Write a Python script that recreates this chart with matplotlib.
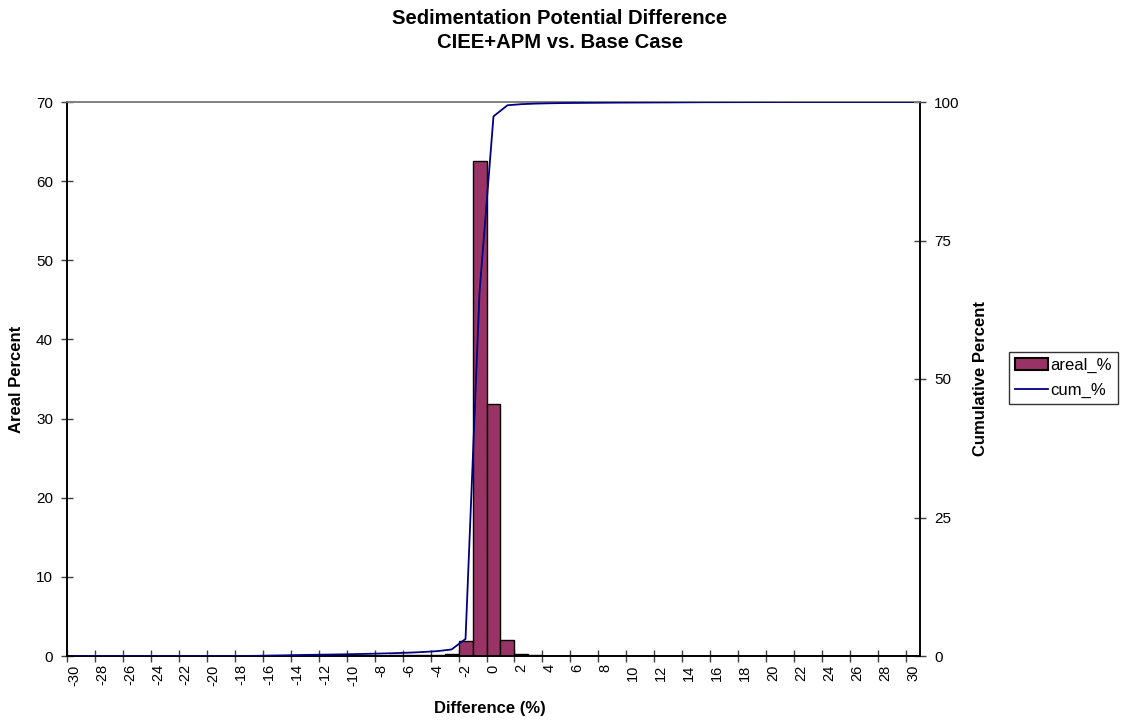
import numpy as np
import matplotlib
matplotlib.use("Agg")
import matplotlib.pyplot as plt
from matplotlib.patches import Patch
from matplotlib.lines import Line2D

plt.rcParams['font.family'] = ['Liberation Sans', 'DejaVu Sans']

# Difference classes (%) and areal percent per class
difference = list(range(-30, 31))
areal_pct = [
    0, 0, 0, 0, 0, 0, 0, 0, 0, 0, 0, 0, 0,          # -30 .. -18
    0.03, 0.05, 0.04, 0.05, 0.04, 0.04, 0.04,       # -17 .. -11
    0.05, 0.05, 0.06, 0.07, 0.09, 0.12, 0.15,       # -10 .. -4
    0.30, 1.90, 62.6, 31.8, 2.00,                   # -3 .. 1
    0.20, 0.10, 0.06, 0.04, 0.02, 0.02, 0.02,       # 2 .. 8
    0.02, 0.01, 0.01, 0.01, 0.01, 0.015, 0.015,     # 9 .. 15
    0.005, 0.005, 0.005, 0.005, 0.005, 0.005, 0.01, # 16 .. 22
    0, 0, 0, 0, 0, 0, 0, 0,                         # 23 .. 30
]
cum_pct = np.cumsum(areal_pct)
cum_pct = cum_pct / cum_pct[-1] * 100.0

tick_labels = [str(v) for v in difference[::2]]

BAR_COLOR = '#993366'
LINE_COLOR = '#000080'

W, H = 1127, 722
L, R, T, B = 67, 920, 102, 656

fig = plt.figure(figsize=(W / 100, H / 100), dpi=100)
ax = fig.add_axes([L / W, 1 - B / H, (R - L) / W, (B - T) / H])
ax2 = ax.twinx()

x = np.array(difference, dtype=float)
ax.bar(x, areal_pct, width=1.0, color=BAR_COLOR, edgecolor='black',
       linewidth=1.0, zorder=2)
ax2.plot(x, cum_pct, color=LINE_COLOR, linewidth=1.3, zorder=3)

ax.set_xlim(-30.5, 30.5)
ax.set_ylim(0, 70)
ax2.set_ylim(0, 100)

# tick marks on category boundaries, labels on category centres
ax.set_xticks(np.arange(-30.5, 30, 2))
ax.set_xticklabels([])
ax.tick_params(axis='x', which='major', direction='inout', length=8,
               width=1, color='#404040')
ax.set_xticks(x[::2], minor=True)
ax.set_xticklabels(tick_labels, minor=True, rotation=90, fontsize=10.5)
ax.tick_params(axis='x', which='minor', length=0, pad=6)

ax.set_yticks(np.arange(0, 71, 10))
ax.tick_params(axis='y', direction='inout', length=8, width=1,
               color='#404040', labelsize=11, pad=6)
ax2.set_yticks([0, 25, 50, 75, 100])
ax2.tick_params(axis='y', direction='inout', length=8, width=1,
                color='#404040', labelsize=11, pad=6)

for a in (ax, ax2):
    a.spines['left'].set_color('black')
    a.spines['right'].set_color('black')
    a.spines['bottom'].set_color('black')
    a.spines['top'].set_color('#808080')
    for s in a.spines.values():
        s.set_linewidth(1.2)
ax.set_zorder(ax2.get_zorder() - 1)
ax.patch.set_visible(True)
ax2.patch.set_visible(False)

ax.set_xlabel('Difference (%)', fontsize=12, fontweight='bold')
ax.xaxis.set_label_coords((490 - L) / (R - L), -(708 - B) / (B - T))
ax.set_ylabel('Areal Percent', fontsize=12, fontweight='bold')
ax.yaxis.set_label_coords(-(L - 17) / (R - L), 0.5)
ax2.set_ylabel('Cumulative Percent', fontsize=12, fontweight='bold')
ax2.yaxis.set_label_coords((980 - L) / (R - L), 0.5)
ax.xaxis.label.set_va('center')
ax.yaxis.label.set_va('center')
ax2.yaxis.label.set_va('center')

fig.text(560 / W, 1 - 19 / H, 'Sedimentation Potential Difference',
         ha='center', va='center', fontsize=14.6, fontweight='bold')
fig.text(560 / W, 1 - 43 / H, 'CIEE+APM vs. Base Case',
         ha='center', va='center', fontsize=14.6, fontweight='bold')

handles = [Patch(facecolor=BAR_COLOR, edgecolor='black', linewidth=1.5),
           Line2D([0], [0], color=LINE_COLOR, linewidth=1.3)]
fig.legend(handles, ['areal_%', 'cum_%'], loc='upper left',
           bbox_to_anchor=(1009 / W, 1 - 352 / H), frameon=True,
           fancybox=False, edgecolor='black', fontsize=12,
           handlelength=2.0, handletextpad=0.15, borderpad=0.35,
           labelspacing=0.6, borderaxespad=0)

fig.savefig('out.png', dpi=100)
